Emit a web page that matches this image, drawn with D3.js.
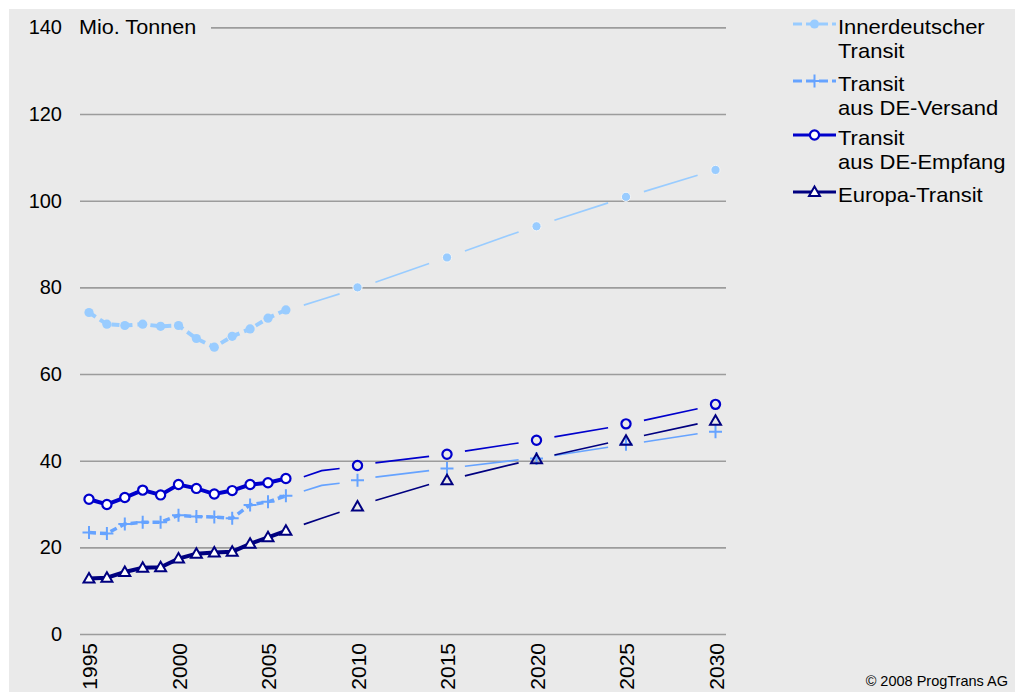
<!DOCTYPE html>
<html>
<head>
<meta charset="utf-8">
<script src="https://cdn.jsdelivr.net/npm/d3@7"></script>
<style>
  html, body { margin: 0; padding: 0; background: #ffffff; }
  svg { display: block; font-family: "Liberation Sans", Arial, sans-serif; }
</style>
</head>
<body>
<svg id="chart" width="1015" height="692"></svg>
<script>
// ---- data (Mio. Tonnen) ----
const histYears = [1995, 1996, 1997, 1998, 1999, 2000, 2001, 2002, 2003, 2004, 2005, 2006];
const innerHist   = [74.2, 71.5, 71.2, 71.5, 71.0, 71.2, 68.2, 66.2, 68.7, 70.4, 72.9, 74.8];
const versandHist = [23.4, 23.2, 25.4, 25.8, 25.8, 27.4, 27.1, 27.0, 26.7, 29.8, 30.5, 31.9];
const empfangHist = [31.1, 29.9, 31.5, 33.2, 32.1, 34.5, 33.6, 32.3, 33.1, 34.5, 34.9, 35.9];
const europaHist  = [12.8, 13.0, 14.3, 15.3, 15.4, 17.4, 18.5, 18.8, 19.0, 20.8, 22.3, 23.8];

// forecast points
const fcYears = [2010, 2015, 2020, 2025, 2030];
const innerFc   = [80.0, 86.9, 94.1, 100.9, 107.1];
const versandFc = [35.5, 38.2, 40.5, 43.8, 46.7];
const empfangFc = [38.9, 41.5, 44.7, 48.5, 53.0];
const europaFc  = [29.4, 35.5, 40.3, 44.6, 49.2];

// forecast trend lines between the points (null = break at the marked years)
const trendYears = [2007, 2008, 2009, 2010, 2011, 2014, 2015, 2016, 2019, 2020, 2021, 2024, 2025, 2026, 2029];
const innerTrend   = [75.9, 77.2, 78.5, null, 81.2, 85.5, null, 88.4, 92.8, null, 95.5, 99.5, null, 102.1, 105.9];
const versandTrend = [33.0, 34.3, 34.8, null, 36.2, 37.7, null, 38.7, 40.2, null, 41.2, 43.1, null, 44.3, 46.2];
const empfangTrend = [36.3, 37.7, 38.2, null, 39.5, 41.0, null, 42.2, 44.1, null, 45.5, 47.6, null, 49.3, 52.0];
const europaTrend  = [25.3, 26.7, 28.1, null, 30.8, 34.5, null, 36.5, 39.5, null, 41.3, 44.1, null, 45.8, 48.5];

const yTicks = [0, 20, 40, 60, 80, 100, 120, 140];
const xTicks = [1995, 2000, 2005, 2010, 2015, 2020, 2025, 2030];
const seriesNames = [["Innerdeutscher", "Transit"], ["Transit", "aus DE-Versand"], ["Transit", "aus DE-Empfang"], ["Europa-Transit"]];
const unitLabel = "Mio. Tonnen";
const copyright = "\u00A9 2008 ProgTrans AG";

// ---- layout ----
const svg = d3.select("#chart");
const W = 1015, H = 692;
const plotLeft = 80, plotRight = 726;
const x = d3.scaleLinear().domain([1995, 2030]).range([89, 715.5]);
const y = d3.scaleLinear().domain([0, 140]).range([634, 27.4]);

const colors = { inner: "#99ccff", versand: "#66a3ff", empfang: "#0000cc", europa: "#000080" };
const bg = "#eaeaea";

svg.append("rect").attr("x", 9).attr("y", 9).attr("width", W - 9).attr("height", H - 9).attr("fill", bg);

// y axis with gridlines
const yAxis = svg.append("g")
  .attr("transform", `translate(${plotLeft},0)`)
  .call(d3.axisLeft(y).tickValues(yTicks).tickSize(-(plotRight - plotLeft)).tickPadding(18).tickFormat(d3.format("d")));
yAxis.select(".domain").remove();
yAxis.selectAll(".tick line").attr("stroke", "#9c9c9c").attr("stroke-width", 1.6);
yAxis.selectAll(".tick text").attr("font-size", 20).attr("fill", "#000").attr("font-family", "Liberation Sans, Arial, sans-serif");

// unit label sits on top of the uppermost gridline
const unitG = svg.append("g");
unitG.append("rect").attr("x", 70).attr("y", y(140) - 12).attr("width", 141).attr("height", 24).attr("fill", bg);
unitG.append("text").attr("x", 79).attr("y", y(140)).attr("dy", "0.35em")
  .attr("font-size", 20).attr("fill", "#000")
  .attr("transform", `translate(79,0) scale(1.08,1) translate(-79,0)`)
  .text(unitLabel);

// x axis labels (rotated)
const xAxis = svg.append("g")
  .attr("transform", `translate(0,${y(0)})`)
  .call(d3.axisBottom(x).tickValues(xTicks).tickSize(0).tickFormat(d3.format("d")));
xAxis.select(".domain").remove();
xAxis.selectAll(".tick text")
  .attr("font-size", 21).attr("fill", "#000").attr("font-family", "Liberation Sans, Arial, sans-serif")
  .attr("text-anchor", "end")
  .attr("transform", "rotate(-90)")
  .attr("x", -9).attr("y", 0).attr("dy", "0.36em");

// ---- marks ----
const zip = (xs, vs) => xs.map((yr, i) => ({ yr, v: vs[i] }));
const line = d3.line().defined(d => d.v != null).x(d => x(d.yr)).y(d => y(d.v));

const plusPath = s => `M${-s},0H${s}M0,${-s}V${s}`;
const triPath = d3.symbol(d3.symbolTriangle, 52)();

function drawMarker(g, kind, color, hollow) {
  if (kind === "dot") {
    g.append("circle").attr("r", 4.6).attr("fill", color)
      .attr("stroke", hollow ? "#f6f6f6" : "none").attr("stroke-width", 1);
  } else if (kind === "plus") {
    g.append("path").attr("d", plusPath(6.5)).attr("stroke", color).attr("stroke-width", 2).attr("fill", "none");
  } else if (kind === "circle") {
    g.append("circle").attr("r", 4.6).attr("fill", hollow ? "none" : "#fff")
      .attr("stroke", color).attr("stroke-width", 2.2);
  } else if (kind === "tri") {
    g.append("path").attr("d", triPath).attr("transform", "translate(0,0.8)")
      .attr("fill", hollow ? "none" : "#fff").attr("stroke", color).attr("stroke-width", 2);
  }
}

const series = [
  { key: "inner",   hist: innerHist,   fc: innerFc,   trend: innerTrend,   marker: "dot",    dash: "8,5", width: 4 },
  { key: "versand", hist: versandHist, fc: versandFc, trend: versandTrend, marker: "plus",   dash: "7,4", width: 3.5 },
  { key: "empfang", hist: empfangHist, fc: empfangFc, trend: empfangTrend, marker: "circle", dash: null,  width: 4 },
  { key: "europa",  hist: europaHist,  fc: europaFc,  trend: europaTrend,  marker: "tri",    dash: null,  width: 4 }
];

series.forEach(s => {
  const c = colors[s.key];
  const g = svg.append("g");
  // trend segments
  g.append("path").datum(zip(trendYears, s.trend)).attr("d", line)
    .attr("fill", "none").attr("stroke", c).attr("stroke-width", 1.6);
  // historical line
  g.append("path").datum(zip(histYears, s.hist)).attr("d", line)
    .attr("fill", "none").attr("stroke", c).attr("stroke-width", s.width)
    .attr("stroke-dasharray", s.dash);
  // historical markers
  zip(histYears, s.hist).forEach(d => {
    const m = g.append("g").attr("transform", `translate(${x(d.yr)},${y(d.v)})`);
    drawMarker(m, s.marker, c, false);
  });
  // forecast markers
  zip(fcYears, s.fc).forEach(d => {
    const m = g.append("g").attr("transform", `translate(${x(d.yr)},${y(d.v)})`);
    drawMarker(m, s.marker, c, true);
  });
});

// ---- legend ----
const legendY = [24, 81, 135, 192];
const legend = svg.append("g");
series.forEach((s, i) => {
  const c = colors[s.key];
  const ly = legendY[i];
  legend.append("line").attr("x1", 793).attr("x2", 836).attr("y1", ly).attr("y2", ly)
    .attr("stroke", c).attr("stroke-width", 3).attr("stroke-dasharray", s.dash ? "9,4" : null);
  const m = legend.append("g").attr("transform", `translate(814.5,${ly})`);
  drawMarker(m, s.marker, c, false);
  const t = legend.append("text").attr("x", 838).attr("y", ly + 10)
    .attr("font-size", 20).attr("fill", "#000")
    .attr("transform", `translate(838,0) scale(1.1,1) translate(-838,0)`);
  seriesNames[i].forEach((ln, j) => {
    t.append("tspan").attr("x", 838).attr("dy", j === 0 ? 0 : 24).text(ln);
  });
});

// ---- source note ----
svg.append("text").attr("x", 1008).attr("y", 686).attr("text-anchor", "end")
  .attr("font-size", 14.5).attr("fill", "#000").text(copyright);
</script>
</body>
</html>
